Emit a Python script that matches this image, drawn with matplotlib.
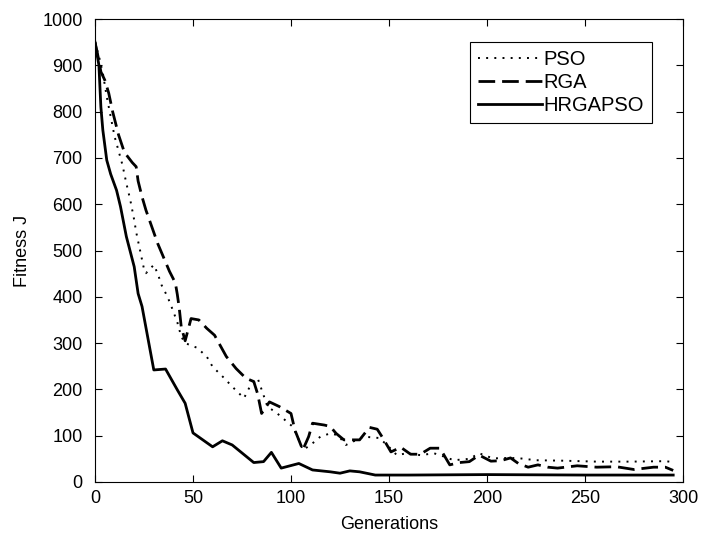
import matplotlib
matplotlib.use("Agg")
import matplotlib.pyplot as plt

plt.rcParams['font.family'] = ['Liberation Sans', 'DejaVu Sans']

# PSO curve
pso_gen = [0, 2, 4, 6, 8, 10, 14, 16, 18, 20, 21, 23, 25, 26, 30, 32, 34, 37, 39, 42, 44, 46,
           52, 57, 60, 66, 70, 76, 79, 83, 88, 93, 98, 101, 104, 106, 110, 115, 120, 124,
           128, 137, 145, 149, 154, 159, 166, 173, 178, 183, 191, 196, 203, 212, 217, 225,
           239, 256, 273, 291, 295]
pso_fit = [950, 920, 883, 832, 789, 746, 685, 645, 609, 566, 540, 500, 460, 451, 469, 450, 425, 400,
           379, 345, 314, 300, 290, 271, 249, 224, 206, 181, 206, 224, 163, 148, 130, 119,
           91, 69, 80, 98, 105, 101, 80, 98, 95, 80, 58, 62, 58, 62, 55, 47, 50, 62, 51,
           52, 51, 47, 46, 44, 44, 45, 43]

# RGA curve
rga_gen = [0, 2, 3, 5, 7, 9, 12, 15, 19, 21, 22, 24, 26, 29, 32, 34, 37, 38, 41, 42, 43, 44,
           46, 49, 53, 57, 61, 67, 72, 77, 81, 83, 85, 89, 94, 100, 102, 105, 106, 109,
           111, 117, 120, 123, 127, 132, 135, 140, 144, 147, 151, 156, 161, 166, 171, 176,
           181, 186, 191, 196, 202, 207, 212, 216, 221, 226, 231, 236, 246, 256, 266, 275,
           285, 291, 295]
rga_fit = [950, 910, 886, 868, 840, 800, 750, 712, 690, 681, 650, 616, 587, 551, 515, 495, 465, 455,
           430, 405, 375, 335, 305, 353, 350, 332, 317, 271, 245, 224, 217, 190, 148, 173,
           163, 148, 112, 80, 69, 98, 127, 123, 120, 105, 91, 91, 91, 118, 114, 94, 65,
           75, 60, 60, 73, 73, 37, 42, 44, 58, 45, 46, 52, 40, 32, 37, 32, 30, 35, 32, 33,
           27, 32, 32, 25]

# HRGAPSO curve
hyb_gen = [0, 2, 3, 4, 6, 8, 11, 13, 16, 20, 22, 24, 30, 36, 42, 46, 50, 60, 65, 70, 81, 86,
           90, 95, 104, 111, 120, 125, 130, 135, 143, 160, 200, 250, 295]
hyb_fit = [950, 900, 810, 760, 695, 665, 630, 595, 530, 465, 407, 379, 242, 244, 199, 170, 106,
           76, 89, 80, 42, 44, 64, 30, 40, 26, 22, 19, 24, 22, 15, 15, 16, 15, 15]

labels = ['PSO', 'RGA', 'HRGAPSO']

fig = plt.figure(figsize=(7.01, 5.37), dpi=100)
ax = fig.add_axes([95 / 701, 1 - 482 / 537, 588 / 701, 463 / 537])

ax.plot(pso_gen, pso_fit, color='black', linestyle=(0, (1, 3.2)), linewidth=1.4, label=labels[0])
ax.plot(rga_gen, rga_fit, color='black', linestyle=(0, (6, 2.5)), linewidth=2.0, label=labels[1])
ax.plot(hyb_gen, hyb_fit, color='black', linestyle='-', linewidth=2.0, label=labels[2])

ax.set_xlim(0, 300)
ax.set_ylim(0, 1000)
ax.set_xticks(range(0, 301, 50))
ax.set_yticks(range(0, 1001, 100))
ax.tick_params(direction='in', top=True, right=True, length=5, labelsize=13)
ax.tick_params(axis='x', pad=6)
ax.tick_params(axis='y', pad=9)
for s in ax.spines.values():
    s.set_linewidth(0.8)

ax.set_xlabel('Generations', fontsize=13, labelpad=6)
ax.set_ylabel('Fitness J', fontsize=13, labelpad=8)

leg = ax.legend(loc='upper right', bbox_to_anchor=(0.947, 0.95), borderaxespad=0,
                fontsize=14.5, handlelength=3.2, handletextpad=0.05, labelspacing=0.2,
                fancybox=False, framealpha=1, borderpad=0.4)
leg.get_frame().set_edgecolor('black')
leg.get_frame().set_linewidth(0.8)

fig.savefig('out.png', dpi=100)
